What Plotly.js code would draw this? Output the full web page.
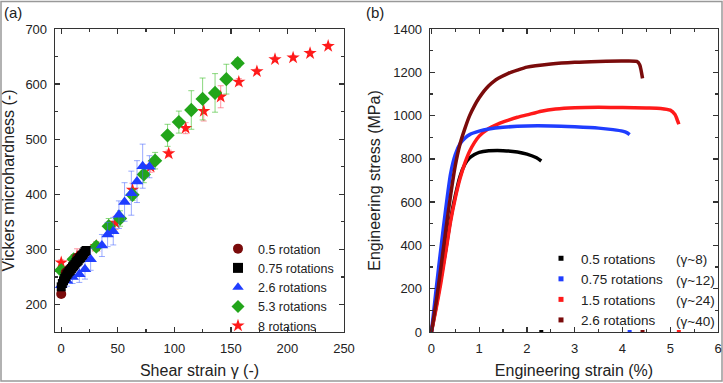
<!DOCTYPE html>
<html><head><meta charset="utf-8">
<script src="https://cdn.plot.ly/plotly-3.0.1.min.js"></script>
<style>html,body{margin:0;padding:0;background:#fff}</style>
</head><body><div id="chart" style="width:723px;height:383px"></div>
<script>
// ---- Panel (a): Vickers microhardness vs shear strain ----
const circX = [0, 4, 7, 10, 14, 17];
const circY = [219, 258, 264, 270, 285, 289];

const sqX = [0,1,2,3,4,5,6,7,8,9,10,11,12,13,14,15,16,17,18,19,20,21,22];
const sqY = [232,238,243,247,250,254,257,260,262,265,268,270,273,276,278,280,283,285,288,290,293,296,298];

const triX = [0, 5, 10, 16, 21, 26, 36, 41, 46, 51, 56, 62, 67, 72, 78];
const triY = [235, 243, 250, 255, 264, 282, 307, 327, 333, 363, 386, 402, 423, 451, 450];
const triErr = [8, 10, 12, 15, 18, 20, 20, 22, 25, 25, 35, 40, 38, 40, 20];

const diaX = [0, 11, 31, 42, 52, 63, 73, 83, 94, 104, 115, 125, 136, 146, 156];
const diaY = [262, 282, 305, 342, 356, 399, 436, 461, 507, 531, 553, 573, 584, 609, 638];
const diaErr = [6, 6, 8, 14, 14, 10, 15, 15, 20, 20, 35, 38, 35, 27, 8];

const starX = [0, 14, 31, 48, 63, 79, 95, 110, 126, 141, 157, 173, 189, 205, 220, 236];
const starY = [276, 287, 306, 348, 408, 450, 474, 520, 551, 577, 604, 623, 645, 648, 656, 669];
const starErr = [5, 14, 8, 12, 12, 10, 6, 10, 18, 20, 6, 4, 4, 4, 4, 4];

// ---- Panel (b): engineering stress-strain ----
const s05X = [0, 0.1, 0.2, 0.3, 0.4, 0.5, 0.6, 0.7, 0.8, 0.9, 1.0, 1.2, 1.5, 1.8, 2.0, 2.2, 2.3];
const s05Y = [0, 120, 250, 380, 520, 630, 720, 775, 805, 820, 830, 837, 838, 832, 822, 805, 790];

const s075X = [0, 0.1, 0.2, 0.3, 0.4, 0.5, 0.6, 0.7, 0.8, 1.0, 1.2, 1.5, 2.0, 2.5, 3.0, 3.5, 3.8, 4.0, 4.1, 4.15];
const s075Y = [0, 200, 390, 570, 730, 820, 870, 895, 912, 928, 938, 946, 952, 952, 948, 942, 935, 928, 920, 912];

const s15X = [0, 0.1, 0.2, 0.3, 0.4, 0.5, 0.6, 0.7, 0.8, 0.9, 1.0, 1.2, 1.4, 1.6, 1.8, 2.0, 2.3, 2.6, 3.0, 3.5, 4.0, 4.5, 4.8, 5.0, 5.1, 5.13, 5.18];
const s15Y = [0, 110, 230, 370, 510, 620, 710, 780, 835, 875, 905, 940, 962, 978, 992, 1003, 1020, 1030, 1036, 1038, 1037, 1035, 1033, 1025, 1005, 990, 960];

const s26X = [0, 0.1, 0.2, 0.3, 0.4, 0.5, 0.6, 0.7, 0.8, 0.9, 1.0, 1.1, 1.2, 1.3, 1.4, 1.6, 1.8, 2.0, 2.5, 3.0, 3.5, 4.0, 4.3, 4.36, 4.42];
const s26Y = [0, 140, 300, 470, 630, 770, 870, 940, 1000, 1045, 1082, 1113, 1138, 1157, 1172, 1194, 1210, 1224, 1238, 1246, 1250, 1252, 1250, 1235, 1172];

const fracX = [2.3, 4.15, 4.42, 5.18];
const fracY = [0, 0, 0, 0];

const namesA = ['0.5 rotation', '0.75 rotations', '2.6 rotations', '5.3 rotations', '8 rotations'];
const namesB = ['0.5 rotations', '0.75 rotations', '1.5 rotations', '2.6 rotations'];
const gammaB = ['(γ~8)', '(γ~12)', '(γ~24)', '(γ~40)'];

const cDark = '#7a0b0b', cBlack = '#000000', cBlue = '#1f3dff', cGreen = '#22a51a', cRed = '#ff1a1a';
const colorsB = [cBlack, cBlue, cRed, cDark];

const traces = [];
// Panel (a)
traces.push({x: starX, y: starY, type: 'scatter', mode: 'markers', showlegend: false,
  error_y: {type: 'data', array: starErr, color: 'rgba(255,80,100,0.6)', thickness: 1, width: 3},
  marker: {symbol: 'star', size: 10, color: cRed}, xaxis: 'x', yaxis: 'y'});
traces.push({x: diaX, y: diaY, type: 'scatter', mode: 'markers', showlegend: false,
  error_y: {type: 'data', array: diaErr, color: 'rgba(60,190,40,0.6)', thickness: 1, width: 3},
  marker: {symbol: 'diamond', size: 11, color: cGreen}, xaxis: 'x', yaxis: 'y'});
traces.push({x: triX, y: triY, type: 'scatter', mode: 'markers', showlegend: false,
  error_y: {type: 'data', array: triErr, color: 'rgba(70,100,255,0.55)', thickness: 1, width: 3},
  marker: {symbol: 'triangle-up', size: 11, color: cBlue}, xaxis: 'x', yaxis: 'y'});
traces.push({x: circX, y: circY, type: 'scatter', mode: 'markers', showlegend: false,
  marker: {symbol: 'circle', size: 10, color: cDark}, xaxis: 'x', yaxis: 'y'});
traces.push({x: sqX, y: sqY, type: 'scatter', mode: 'markers', showlegend: false,
  marker: {symbol: 'square', size: 9, color: cBlack}, xaxis: 'x', yaxis: 'y'});
// legend entries (a)
const legA = [['circle', cDark], ['square', cBlack], ['triangle-up', cBlue], ['diamond', cGreen], ['star', cRed]];
legA.forEach((s, i) => traces.push({x: [null], y: [null], type: 'scatter', mode: 'markers', name: namesA[i],
  marker: {symbol: s[0], size: 10, color: s[1]}, xaxis: 'x', yaxis: 'y', legend: 'legend'}));

// Panel (b)
const curvesB = [[s05X, s05Y], [s075X, s075Y], [s15X, s15Y], [s26X, s26Y]];
[0, 2, 1, 3].forEach(i => traces.push({x: curvesB[i][0], y: curvesB[i][1], type: 'scatter', mode: 'lines',
  showlegend: false, line: {color: colorsB[i], width: 3.5, shape: 'spline', smoothing: 0.6}, xaxis: 'x2', yaxis: 'y2'}));
traces.push({x: fracX, y: fracY, type: 'scatter', mode: 'markers', showlegend: false,
  marker: {symbol: 'square', size: 4, color: [cBlack, cBlue, cDark, cRed]}, xaxis: 'x2', yaxis: 'y2'});
namesB.forEach((n, i) => traces.push({x: [null], y: [null], type: 'scatter', mode: 'markers', name: n,
  marker: {symbol: 'square', size: 5, color: colorsB[i]}, xaxis: 'x2', yaxis: 'y2', legend: 'legend2'}));

const font = {family: 'Liberation Sans, Arial, sans-serif', color: '#222'};
const tickFont = {family: 'Liberation Sans, Arial, sans-serif', size: 13, color: '#222'};
const titleFont = {family: 'Liberation Sans, Arial, sans-serif', size: 16, color: '#222'};
const axBase = {showline: true, linecolor: '#333', linewidth: 1.3, mirror: 'ticks', ticks: 'inside',
  ticklen: 5, tickwidth: 1.3, tickcolor: '#333', showgrid: false, zeroline: false, tickfont: tickFont,
  ticklabelstandoff: 4};

const legFontB = 13.5;
const legStepB = legFontB * 1.3 + 3;
const yDom = [51/383, 354/383];
const layout = {
  width: 723, height: 383, margin: {l: 0, r: 0, t: 0, b: 0}, paper_bgcolor: '#fff', plot_bgcolor: '#fff',
  font: font, showlegend: true,
  xaxis: Object.assign({}, axBase, {domain: [55/723, 344/723], range: [-5.5, 250], tickvals: [0, 50, 100, 150, 200, 250],
    minor: {ticks: 'inside', ticklen: 3, tickwidth: 1.2, tickcolor: '#333', dtick: 25, tick0: 0},
    title: {text: 'Shear strain γ (-)', font: titleFont, standoff: 10}, anchor: 'y'}),
  yaxis: Object.assign({}, axBase, {domain: yDom, range: [150, 700], tickvals: [200, 300, 400, 500, 600, 700],
    minor: {ticks: 'inside', ticklen: 3, tickwidth: 1.2, tickcolor: '#333', dtick: 50, tick0: 0},
    title: {text: 'Vickers microhardness (-)', font: titleFont, standoff: 8}, anchor: 'x'}),
  xaxis2: Object.assign({}, axBase, {domain: [430/723, 718/723], range: [-0.03, 6], tickvals: [0, 1, 2, 3, 4, 5, 6],
    minor: {ticks: 'inside', ticklen: 3, tickwidth: 1.2, tickcolor: '#333', dtick: 0.5, tick0: 0},
    title: {text: 'Engineering strain (%)', font: titleFont, standoff: 10}, anchor: 'y2'}),
  yaxis2: Object.assign({}, axBase, {domain: yDom, range: [0, 1400], tickvals: [0, 200, 400, 600, 800, 1000, 1200, 1400],
    minor: {ticks: 'inside', ticklen: 3, tickwidth: 1.2, tickcolor: '#333', dtick: 100, tick0: 0},
    title: {text: 'Engineering stress (MPa)', font: titleFont, standoff: 8}, anchor: 'x2'}),
  legend: {x: 218/723, y: 1 - 234/383, xanchor: 'left', yanchor: 'top', bgcolor: 'rgba(0,0,0,0)',
    font: {family: 'Liberation Sans, Arial, sans-serif', size: 12.5, color: '#222'}, borderwidth: 0, tracegroupgap: 0},
  legend2: {x: 541/723, y: 1 - 243/383, xanchor: 'left', yanchor: 'top', bgcolor: 'rgba(0,0,0,0)',
    font: {family: 'Liberation Sans, Arial, sans-serif', size: legFontB, color: '#222'}, borderwidth: 0, tracegroupgap: 0},
  annotations: [
    {text: '(a)', xref: 'paper', yref: 'paper', x: 2/723, y: 1 - 2/383, xanchor: 'left', yanchor: 'top', showarrow: false,
      font: {family: 'Liberation Sans, Arial, sans-serif', size: 15, color: '#222'}},
    {text: '(b)', xref: 'paper', yref: 'paper', x: 364/723, y: 1 - 2/383, xanchor: 'left', yanchor: 'top', showarrow: false,
      font: {family: 'Liberation Sans, Arial, sans-serif', size: 15, color: '#222'}}
  ].concat(gammaB.map((g, i) => ({text: g, xref: 'paper', yref: 'paper', x: 674/723, y: 1 - (259.5 + i * legStepB)/383,
      xanchor: 'left', yanchor: 'middle', showarrow: false,
      font: {family: 'Liberation Sans, Arial, sans-serif', size: legFontB, color: '#222'}}))),
  shapes: [
    {type: 'rect', xref: 'paper', yref: 'paper', x0: 1/723, x1: 722/723, y0: 2/383, y1: 1 - 1.5/383,
      line: {color: '#999', width: 1.5}, fillcolor: 'rgba(0,0,0,0)', layer: 'below'}
  ]
};
Plotly.newPlot('chart', traces, layout, {displayModeBar: false, staticPlot: true});
</script></body></html>
